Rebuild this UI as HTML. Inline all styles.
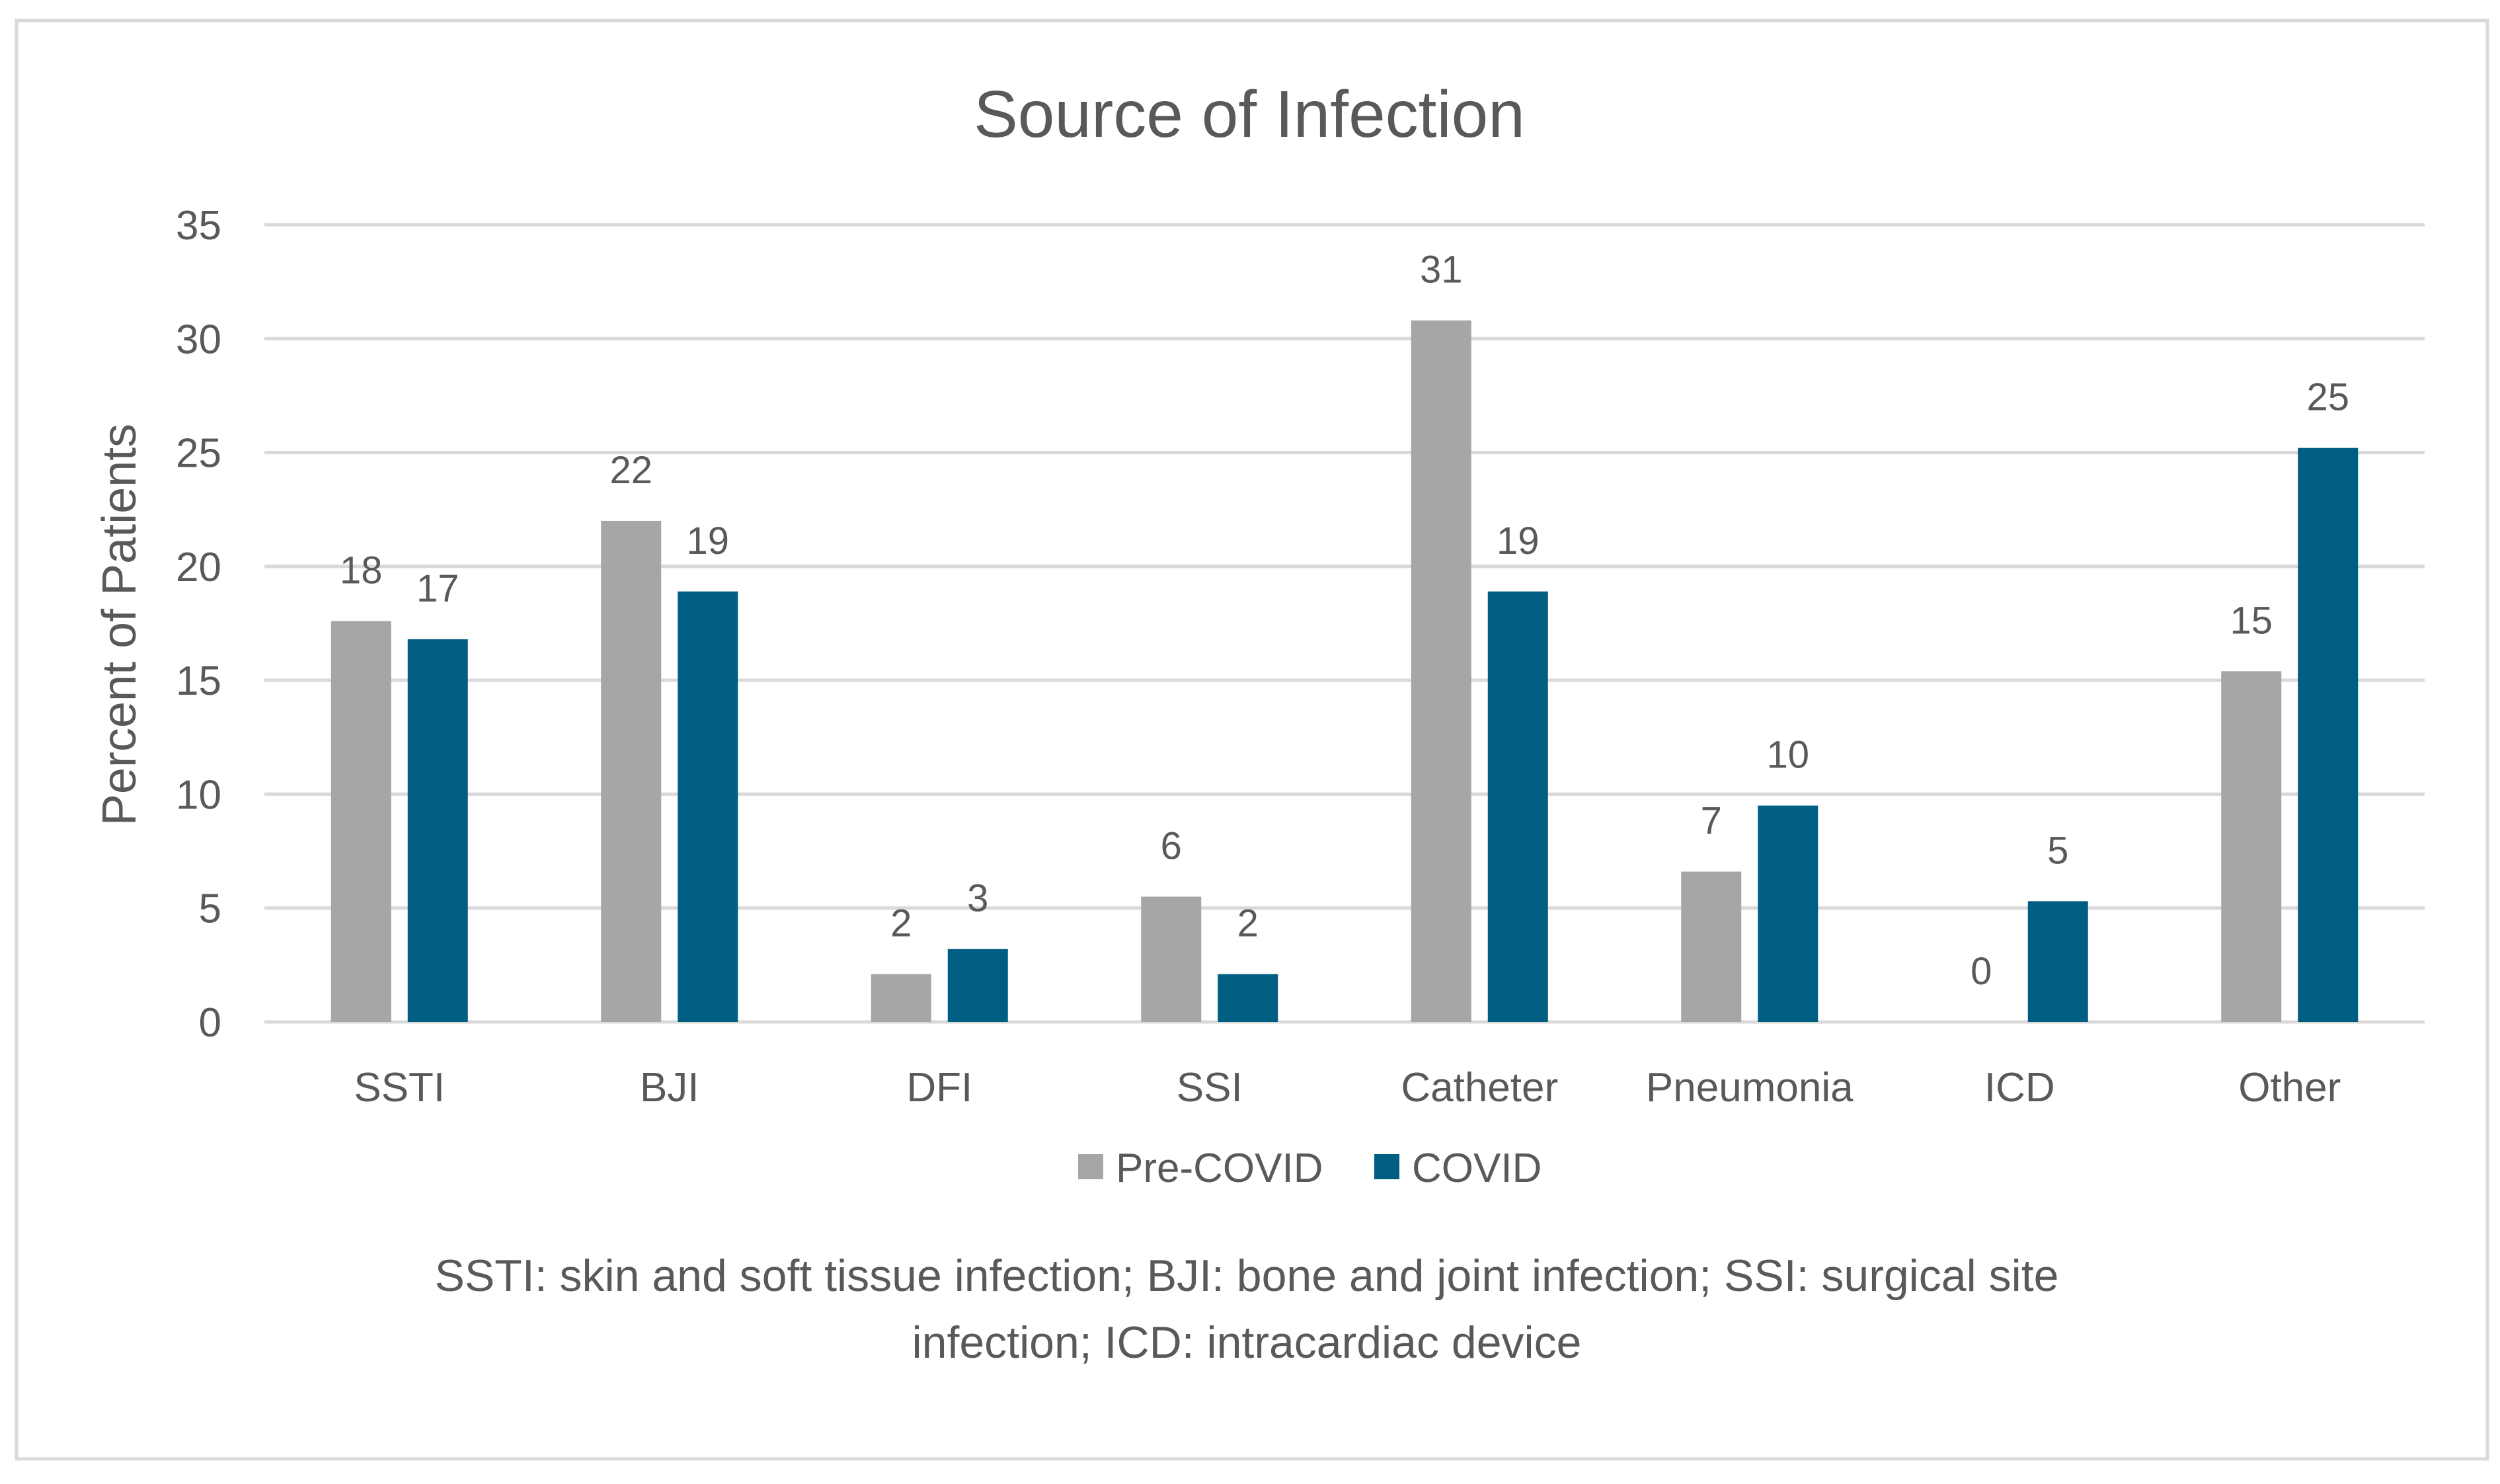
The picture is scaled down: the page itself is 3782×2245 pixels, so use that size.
<!DOCTYPE html>
<html><head><meta charset="utf-8"><style>
html,body{margin:0;padding:0;background:#fff;}
svg text{font-family:"Liberation Sans",sans-serif;fill:#595959;}
</style></head><body>
<svg id="chart" width="3782" height="2240" viewBox="0 0 3782 2240" xmlns="http://www.w3.org/2000/svg">
<rect x="25" y="31" width="3738" height="2176" fill="#fff" stroke="#d9d9d9" stroke-width="5"/>
<text x="1890" y="207" font-size="100" text-anchor="middle">Source of Infection</text>
<g id="grid"></g><g id="bars"></g><g id="labels"></g>
<text transform="translate(205,945) rotate(-90)" font-size="72" text-anchor="middle">Percent of Patients</text>
<rect x="1631" y="1746" width="38" height="38" fill="#a6a6a6"/>
<text x="1688" y="1788" font-size="62">Pre-COVID</text>
<rect x="2079" y="1746" width="38" height="38" fill="#005e83"/>
<text x="2136" y="1788" font-size="62">COVID</text>
<text x="1886" y="1953" font-size="68" text-anchor="middle">SSTI: skin and soft tissue infection; BJI: bone and joint infection; SSI: surgical site</text>
<text x="1886" y="2054" font-size="68" text-anchor="middle">infection; ICD: intracardiac device</text>
</svg>
<script>
const categories = ["SSTI","BJI","DFI","SSI","Catheter","Pneumonia","ICD","Other"];
const preCovid = [17.6,22.0,2.1,5.5,30.8,6.6,0,15.4];
const covid = [16.8,18.9,3.2,2.1,18.9,9.5,5.3,25.2];
const yTicks = [0,5,10,15,20,25,30,35];
const NS="http://www.w3.org/2000/svg";
const left=400,right=3668,y0=1546,yTop=340,yMax=35;
const y=v=>y0-(v/yMax)*(y0-yTop);
const band=(right-left)/categories.length;
const xc=i=>left+band*(i+0.5);
const bw=91,gap=25;
function mk(tag,attrs,parent,txt){const e=document.createElementNS(NS,tag);for(const k in attrs)e.setAttribute(k,attrs[k]);if(txt!==undefined)e.textContent=txt;parent.appendChild(e);return e;}
const grid=document.getElementById('grid'),bars=document.getElementById('bars'),labels=document.getElementById('labels');
yTicks.forEach(t=>{
  const l=mk('line',{x1:left,x2:right,y1:y(t),y2:y(t),stroke:'#d9d9d9','stroke-width':5},grid);
  
  
  const tx=mk('text',{x:335,y:y(t)+22,'font-size':62,'text-anchor':'end'},grid,String(t));
  
  
});
categories.forEach((c,i)=>{
  const cx=xc(i);
  const xp=cx-gap/2-bw, xb=cx+gap/2;
  const r1=mk('rect',{x:xp,y:y(preCovid[i]),width:bw,height:y0-y(preCovid[i]),fill:'#a6a6a6'},bars);
  
  
  const r2=mk('rect',{x:xb,y:y(covid[i]),width:bw,height:y0-y(covid[i]),fill:'#005e83'},bars);
  
  
  const l1=mk('text',{x:xp+bw/2,y:y(preCovid[i])-57,'font-size':58,'text-anchor':'middle'},labels,String(Math.round(preCovid[i])));
  
  
  const l2=mk('text',{x:xb+bw/2,y:y(covid[i])-57,'font-size':58,'text-anchor':'middle'},labels,String(Math.round(covid[i])));
  
  
  const cl=mk('text',{x:cx,y:1666,'font-size':62,'text-anchor':'middle'},labels,c);
  
  
});
</script>
</body></html>
